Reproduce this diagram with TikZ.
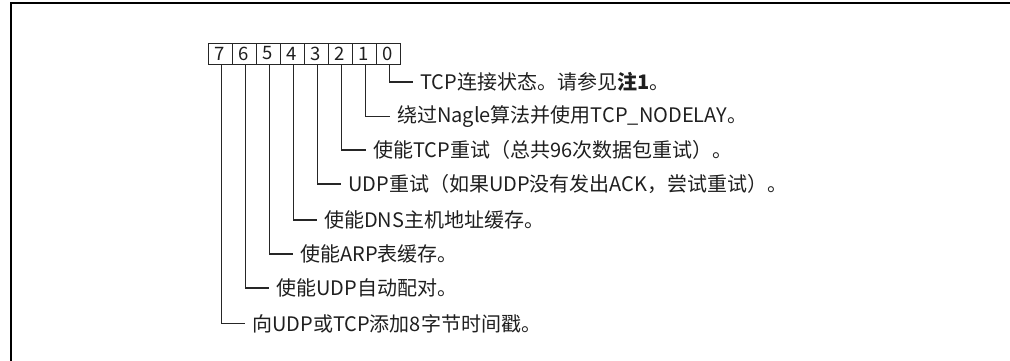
\documentclass[tikz,border=0pt]{standalone}
\usepackage{fontspec}
\setmainfont{Noto Sans CJK SC}
\begin{document}
\begin{tikzpicture}[x=1pt,y=-1pt,
  cell/.style={draw=black!85,line width=0.9pt,minimum width=24pt,minimum height=21pt,inner sep=0pt,font=\fontsize{18.5}{18.5}\selectfont,text=black!88},
  lbl/.style={anchor=west,inner xsep=7pt,inner ysep=0pt,font=\fontsize{20}{21}\selectfont,text=black!88},
  conn/.style={draw=black!85,line width=1.2pt}]
\useasboundingbox (0,0) rectangle (1010,360);
\draw[line width=2.3pt] (11,361) -- (11,3) -- (1011,3);
% register cells
\foreach \b in {0,...,7}{
  \node[cell] (b\b) at ({220+24*(7-\b)},53.5) {\b};
}
% labels
\node[lbl] (t0) at (413,82) {TCP连接状态。请参见\textbf{注1}。};
\node[lbl] (t1) at (390,116.5) {绕过Nagle算法并使用TCP\_NODELAY。};
\node[lbl] (t2) at (366,150) {使能TCP重试（总共96次数据包重试）。};
\node[lbl] (t3) at (341,184) {UDP重试（如果UDP没有发出ACK，尝试重试）。};
\node[lbl] (t4) at (317,220) {使能DNS主机地址缓存。};
\node[lbl] (t5) at (293,254) {使能ARP表缓存。};
\node[lbl] (t6) at (269,288) {使能UDP自动配对。};
\node[lbl] (t7) at (245,323.5) {向UDP或TCP添加8字节时间戳。};
\foreach \b in {0,...,7}{
  \draw[conn] ([xshift=1.3pt]b\b.south) |- (t\b.west);
}
\end{tikzpicture}
\end{document}
